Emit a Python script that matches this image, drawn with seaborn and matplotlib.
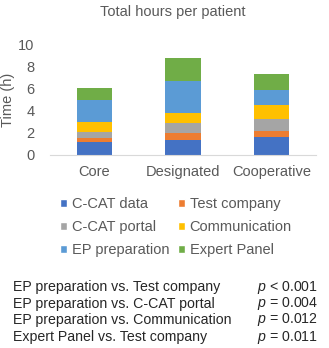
import matplotlib
matplotlib.use("Agg")
import matplotlib.pyplot as plt
import seaborn as sns
import pandas as pd
import numpy as np
from matplotlib.patches import Patch

# values (hours per patient)
groups = ["Core", "Designated", "Cooperative"]
components = ["C-CAT data", "Test company", "C-CAT portal",
              "Communication", "EP preparation", "Expert Panel"]
ccat_data = [1.20, 1.40, 1.60]
test_company = [0.37, 0.57, 0.55]
ccat_portal = [0.55, 0.97, 1.09]
communication = [0.88, 0.88, 1.31]
ep_preparation = [1.97, 2.88, 1.36]
expert_panel = [1.15, 2.09, 1.48]
colors = ["#4472C4", "#ED7D31", "#A5A5A5", "#FFC000", "#5B9BD5", "#70AD47"]

comparisons = ["EP preparation vs. Test company",
               "EP preparation vs. C-CAT portal",
               "EP preparation vs. Communication",
               "Expert Panel vs. Test company"]
pvalues = ["< 0.001", "= 0.004", "= 0.012", "= 0.011"]

sns.set_style("white")
plt.rcParams["font.family"] = ["Liberation Sans", "DejaVu Sans"]
plt.rcParams["mathtext.fontset"] = "custom"
plt.rcParams["mathtext.rm"] = "Liberation Sans"
plt.rcParams["mathtext.it"] = "Liberation Sans:italic"

values = np.array([ccat_data, test_company, ccat_portal,
                   communication, ep_preparation, expert_panel])
cum = np.cumsum(values, axis=0)
df = pd.DataFrame(cum.T, columns=components)
df["Group"] = groups

fig = plt.figure(figsize=(3.29, 3.48), dpi=100)
ax = fig.add_axes([50 / 329, 193 / 348, 266 / 329, 110 / 348])

# stacked look: draw cumulative totals from the top series down
for comp, col in reversed(list(zip(components, colors))):
    sns.barplot(data=df, x="Group", y=comp, color=col, width=0.4,
                saturation=1, ax=ax, linewidth=0)

ax.set_ylim(0, 10)
ax.set_xlim(-0.5, 2.5)
ax.set_yticks(range(0, 11, 2))
ax.set_xlabel("")
ax.set_ylabel("")
for s in ["top", "right", "left"]:
    ax.spines[s].set_visible(False)
ax.spines["bottom"].set_color("#D9D9D9")
ax.tick_params(axis="both", length=0, labelsize=10.5, colors="#595959")
ax.tick_params(axis="x", pad=7)
ax.tick_params(axis="y", pad=11)

fig.text(8 / 329, 1 - 100 / 348, "Time (h)", rotation=90, ha="center",
         va="center", fontsize=10.5, color="#595959")
fig.text(173 / 329, 1 - 12 / 348, "Total hours per patient", ha="center",
         va="center", fontsize=10.5, color="#595959")

# legend in Excel row order (2 columns)
order = [0, 2, 4, 1, 3, 5]
handles = [Patch(facecolor=colors[i], label=components[i]) for i in order]
fig.legend(handles=handles, ncol=2, frameon=False, fontsize=10.5,
           loc="center", bbox_to_anchor=(176 / 329, 1 - 227 / 348),
           handlelength=0.5, handleheight=0.5, handletextpad=0.3,
           columnspacing=0.6, labelspacing=0.62, labelcolor="#595959")

ys = [287, 304, 320, 337]
for y, comp, p in zip(ys, comparisons, pvalues):
    fig.text(13 / 329, 1 - y / 348, comp, ha="left", va="center",
             fontsize=10.2, color="#262626")
    fig.text(257 / 329, 1 - y / 348, r"$p$ " + p, ha="left", va="center",
             fontsize=10.2, color="#262626")

fig.savefig("out.png", dpi=100)
